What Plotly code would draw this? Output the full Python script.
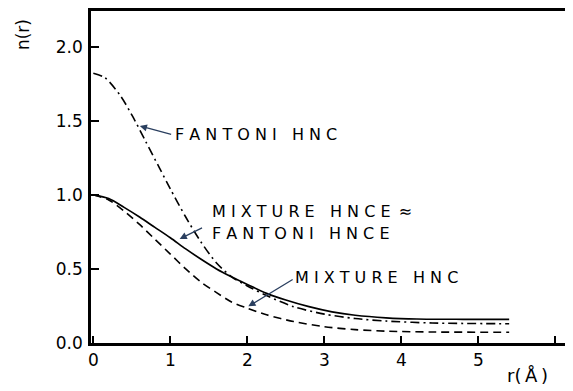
import plotly.graph_objects as go

# Mixture HNCE ≈ Fantoni HNCE (solid)
r_hnce = [0, 0.2, 0.4, 0.6, 0.8, 1.0, 1.2, 1.4, 1.6, 1.8, 2.0, 2.25, 2.5, 2.8, 3.1, 3.4, 3.8, 4.2, 4.8, 5.4]
n_hnce = [1.0, 0.975, 0.915, 0.85, 0.78, 0.71, 0.635, 0.565, 0.50, 0.445, 0.395, 0.335, 0.29, 0.245, 0.21, 0.187, 0.17, 0.162, 0.16, 0.16]

# Mixture HNC (dashed)
r_mhnc = [0, 0.2, 0.4, 0.6, 0.8, 1.0, 1.2, 1.4, 1.6, 1.8, 2.0, 2.25, 2.6, 3.0, 3.4, 3.8, 4.4, 5.4]
n_mhnc = [1.0, 0.965, 0.89, 0.80, 0.70, 0.60, 0.50, 0.41, 0.34, 0.275, 0.235, 0.19, 0.145, 0.11, 0.09, 0.08, 0.074, 0.073]

# Fantoni HNC (dash-dot)
r_fhnc = [0, 0.15, 0.35, 0.52, 0.68, 0.86, 1.0, 1.2, 1.4, 1.6, 1.8, 2.0, 2.25, 2.6, 3.0, 3.4, 3.8, 4.4, 5.4]
n_fhnc = [1.82, 1.79, 1.67, 1.52, 1.36, 1.18, 1.04, 0.85, 0.68, 0.54, 0.445, 0.385, 0.32, 0.245, 0.195, 0.165, 0.148, 0.135, 0.13]

x_ticks = [0, 1, 2, 3, 4, 5, 6]
x_ticktext = ["0", "1", "2", "3", "4", "5", ""]
y_ticks = [0, 0.5, 1.0, 1.5, 2.0]
y_ticktext = ["0.0", "0.5", "1.0", "1.5", "2.0"]

label_fantoni_hnc = "F A N T O N I   H N C"
label_mix_hnce = "M I X T U R E   H N C E \u2009≈"
label_fantoni_hnce = "F A N T O N I   H N C E"
label_mix_hnc = "M I X T U R E   H N C"

FONT = "DejaVu Sans"

# page has an 8px body margin; figure placed so plot area is x 91..572, y 7..343 in the window
W, H = 565, 383
L, T, R, B = 83, 0, 1, 48
PW, PH = W - L - R, H - T - B
XMIN, XMAX = -0.03, 6.19
YMIN, YMAX = 0.0, 2.24


def px(x):  # window pixel -> paper
    return (x - 8 - L) / PW


def py(y):
    return 1 - (y - 8 - T) / PH


def dx(x):  # window pixel -> data x
    return XMIN + (x - 8 - L) / PW * (XMAX - XMIN)


def dy(y):
    return YMIN + (1 - (y - 8 - T) / PH) * (YMAX - YMIN)


fig = go.Figure()
fig.add_trace(go.Scatter(x=r_hnce, y=n_hnce, mode="lines",
                         line=dict(color="black", width=1.7, shape="spline", smoothing=0.8)))
fig.add_trace(go.Scatter(x=r_mhnc, y=n_mhnc, mode="lines",
                         line=dict(color="black", width=1.6, shape="spline", smoothing=0.8, dash="8px,5px")))
fig.add_trace(go.Scatter(x=r_fhnc, y=n_fhnc, mode="lines",
                         line=dict(color="black", width=1.6, shape="spline", smoothing=0.8, dash="9px,4px,2px,4px")))

fig.update_layout(
    width=W, height=H,
    margin=dict(l=L, r=R, t=T, b=B),
    paper_bgcolor="white", plot_bgcolor="white",
    showlegend=False,
    font=dict(family=FONT, size=17, color="black"),
    xaxis=dict(range=[XMIN, XMAX], tickvals=x_ticks, ticktext=x_ticktext,
               ticks="inside", ticklen=7, tickwidth=1.5, tickcolor="black",
               showline=True, linecolor="black", linewidth=2.5, mirror=True,
               showgrid=False, zeroline=False, tickfont=dict(size=17)),
    yaxis=dict(range=[YMIN, YMAX], tickvals=y_ticks, ticktext=y_ticktext,
               ticks="inside", ticklen=8, tickwidth=1.5, tickcolor="black",
               showline=True, linecolor="black", linewidth=2.5, mirror=True,
               showgrid=False, zeroline=False, tickfont=dict(size=17),
               ticklabelstandoff=2),
)

# Text labels
for txt, x0, y0 in [(label_fantoni_hnc, 173, 133), (label_mix_hnce, 210, 210),
                    (label_fantoni_hnce, 210, 233), (label_mix_hnc, 294, 277)]:
    fig.add_annotation(xref="paper", yref="paper", x=px(x0), y=py(y0), text=txt,
                       showarrow=False, xanchor="left", yanchor="middle", font=dict(size=16))

# Arrows (head, tail) in window pixels
for (hx, hy), (tx, ty) in [((140, 124), (173, 133)), ((180, 238), (204, 226)), ((249, 306), (295, 278))]:
    fig.add_annotation(x=dx(hx), y=dy(hy), ax=dx(tx), ay=dy(ty), axref="x", ayref="y",
                       text="", showarrow=True, arrowhead=2, arrowsize=1.1, arrowwidth=1.3)

# axis titles as free text
fig.add_annotation(xref="paper", yref="paper", x=px(22), y=py(32),
                   text="n(r)", showarrow=False, textangle=-90, font=dict(size=17),
                   xanchor="center", yanchor="middle")
fig.add_annotation(xref="paper", yref="paper", x=px(529), y=py(376),
                   text="r(\u2009Å\u2009)", showarrow=False, font=dict(size=18),
                   xanchor="center", yanchor="middle")

fig.write_html("out.html")
